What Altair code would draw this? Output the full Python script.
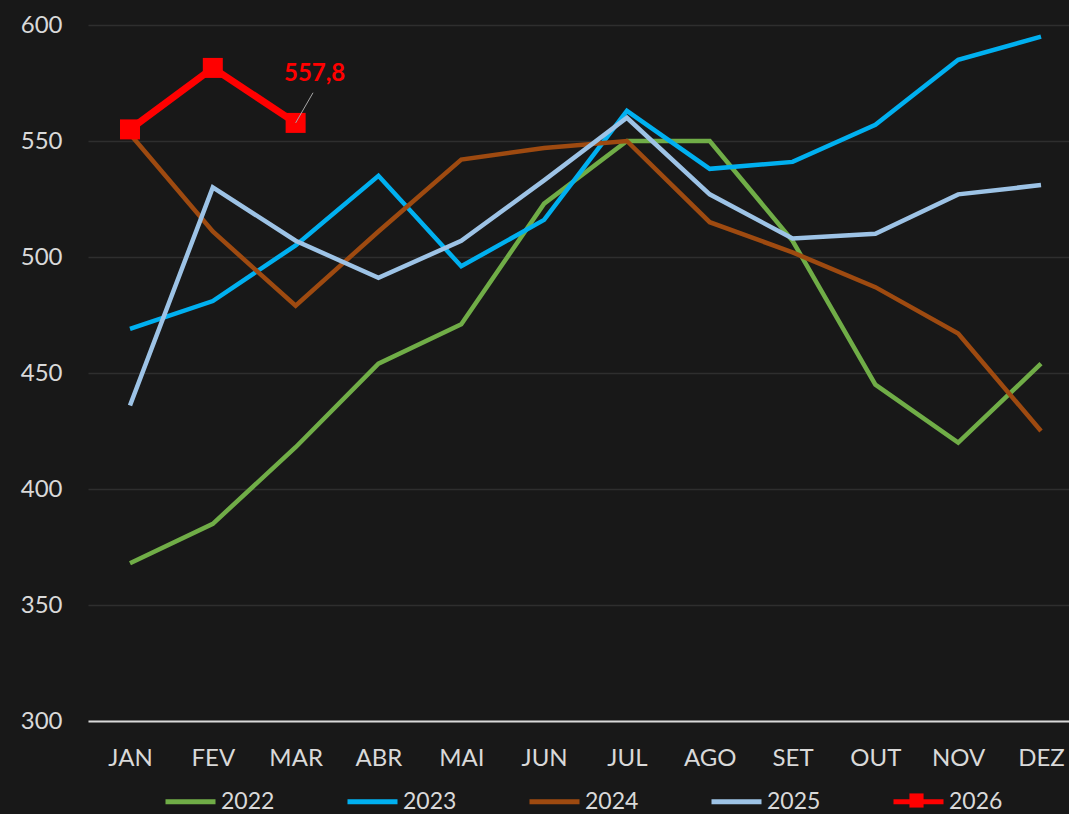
import altair as alt
import pandas as pd

months = ["JAN", "FEV", "MAR", "ABR", "MAI", "JUN", "JUL", "AGO", "SET", "OUT", "NOV", "DEZ"]
years = ["2022", "2023", "2024", "2025", "2026"]
v2022 = [368, 385, 418, 454, 471, 523, 550, 550, 507, 445, 420, 454]
v2023 = [469, 481, 505, 535, 496, 516, 563, 538, 541, 557, 585, 595]
v2024 = [553, 511, 479, 511, 542, 547, 550, 515, 502, 487, 467, 425]
v2025 = [436, 530, 507, 491, 507, 533, 560, 527, 508, 510, 527, 531]
v2026 = [555, 581.5, 557.8]
colors = ["#70AD47", "#00B0F0", "#9E4A10", "#9DC3E6", "#FF0000"]
last_label = "557,8"

series = [v2022, v2023, v2024, v2025, v2026]
rows = []
for y, vals in zip(years, series):
    for i, v in enumerate(vals):
        rows.append({"year": y, "idx": i, "month": months[i], "value": v})
df = pd.DataFrame(rows)
df_old = df[df.year != "2026"]
df2026 = df[df.year == "2026"]
last = df2026[df2026.idx == df2026.idx.max()].copy()
last["label"] = last_label
last["idx2"] = last["idx"] + 0.21
last["value2"] = last["value"] + 13

FONT = "Lato"
TXT = "#D9D9D9"
BG = "#181818"

xscale = alt.Scale(domain=[-0.507, 11.338], nice=False, zero=False)
yscale = alt.Scale(domain=[300, 600], nice=False, zero=False)

label_expr = "[" + ",".join("'%s'" % m for m in months) + "][datum.value]"

x_enc = alt.X("idx:Q", scale=xscale, title=None,
              axis=alt.Axis(values=list(range(12)), labelExpr=label_expr, grid=False,
                            ticks=False, domainColor=TXT, domainWidth=2,
                            labelColor=TXT, labelFontSize=24, labelFont=FONT,
                            labelPadding=25))
y_enc = alt.Y("value:Q", scale=yscale, title=None,
              axis=alt.Axis(values=[300, 350, 400, 450, 500, 550, 600], domain=False,
                            ticks=False, gridColor="#2E2E2E", gridWidth=1.5,
                            labelColor=TXT, labelFontSize=24, labelFont=FONT,
                            labelPadding=26))

color = alt.Color("year:N", scale=alt.Scale(domain=years, range=colors),
                  legend=alt.Legend(orient="none", legendX=75, legendY=749,
                                    direction="horizontal", columns=5, title=None,
                                    symbolType="stroke", symbolSize=2500,
                                    symbolStrokeWidth=5, labelFontSize=23,
                                    labelFont=FONT, labelColor=TXT, labelOffset=3,
                                    columnPadding=62, padding=0))

lines = alt.Chart(df_old).mark_line(strokeWidth=4.5).encode(
    x=x_enc, y=y_enc, color=color, order="idx:Q",
)

line2026 = alt.Chart(df2026).mark_line(strokeWidth=7).encode(
    x="idx:Q", y="value:Q", color=alt.Color("year:N"), order="idx:Q",
)

squares = alt.Chart(df2026).mark_point(filled=True, size=400,
                                        color="#FF0000", opacity=1).encode(
    x="idx:Q", y="value:Q",
    shape=alt.Shape("year:N", scale=alt.Scale(domain=["2026"], range=["square"]),
                    legend=alt.Legend(orient="none", legendX=821, legendY=768,
                                      title=None, symbolSize=200, labelExpr="''",
                                      labelFontSize=1, labelOffset=0, padding=0,
                                      symbolStrokeWidth=0)),
)

leader = alt.Chart(last).mark_rule(color="#A6A6A6", strokeWidth=1).encode(
    x="idx:Q", x2="idx2:Q", y="value:Q", y2="value2:Q")

label = alt.Chart(last).mark_text(color="#FF0000", fontWeight="bold", fontSize=24,
                                  font=FONT, dx=19, dy=-49, baseline="middle").encode(
    x="idx:Q", y="value:Q", text="label:N")

chart = alt.layer(lines, line2026, squares, leader, label).properties(
    width=981, height=696,
    autosize=alt.AutoSizeParams(type="none"),
    padding={"left": 88, "top": 25, "right": 0, "bottom": 93},
    background=BG,
).configure_view(stroke=None)

chart.save("out.html", embed_options={"renderer": "svg", "actions": False,
                                      "defaultStyle": "body{margin:0;background:#181818;overflow:hidden}"})
